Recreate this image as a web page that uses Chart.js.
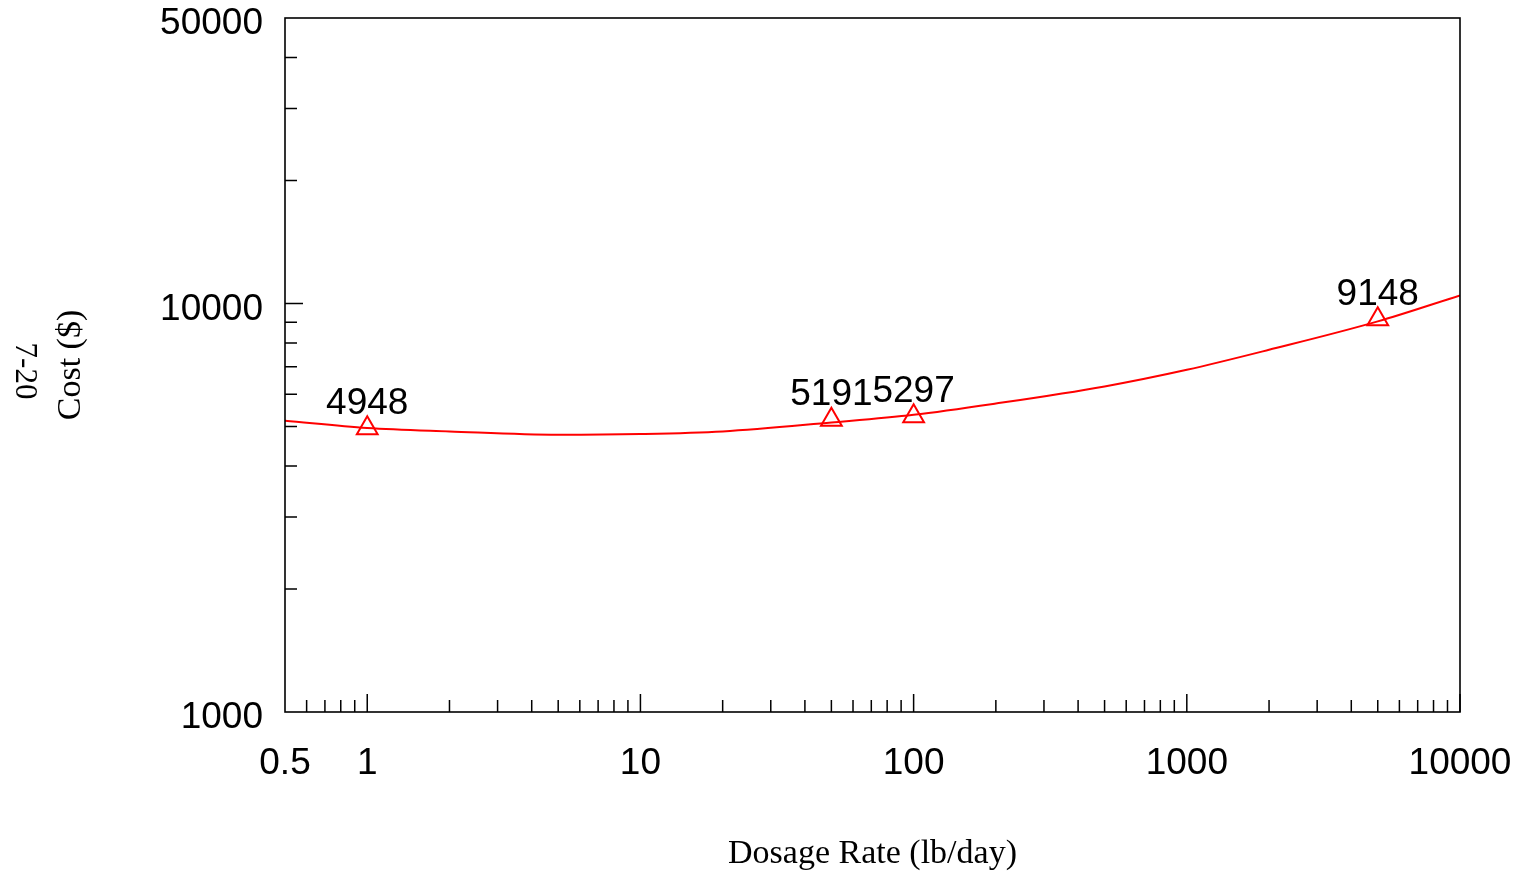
<!DOCTYPE html>
<html>
<head>
<meta charset="utf-8">
<script src="https://cdn.jsdelivr.net/npm/chart.js@4.4.1/dist/chart.umd.min.js"></script>
<style>
  html, body { margin: 0; padding: 0; background: #fff; }
  #wrap { width: 1522px; height: 878px; }
</style>
</head>
<body>
<div id="wrap"><canvas id="cost-chart" width="1522" height="878"></canvas></div>
<script>
// measured points (dosage lb/day, cost $)
var dosage = [1, 50, 100, 5000];
var cost = [4948, 5191, 5297, 9148];

// fitted curve
var fitX = [0.5, 1, 2, 5, 10, 20, 50, 100, 200, 500, 1000, 2000, 5000, 10000];
var fitY = [5163, 4955, 4861, 4771, 4790, 4861, 5113, 5340, 5690, 6266, 6883, 7705, 9042, 10469];

var xTickVals = [0.5, 1, 10, 100, 1000, 10000];
var yTickVals = [1000, 10000, 50000];

// inward tick marks
var xMajor = [1, 10, 100, 1000, 10000];
var xMinor = [0.6, 0.7, 0.8, 0.9, 2, 3, 4, 5, 6, 7, 8, 9, 20, 30, 40, 50, 60, 70, 80, 90,
              200, 300, 400, 500, 600, 700, 800, 900, 2000, 3000, 4000, 5000, 6000, 7000, 8000, 9000];
var yMajor = [10000];
var yMinor = [2000, 3000, 4000, 5000, 6000, 7000, 8000, 9000, 20000, 30000, 40000];

var sans = '"Liberation Sans", Arial, sans-serif';
var serif = '"Liberation Serif", "Times New Roman", serif';

Chart.defaults.color = 'black';
Chart.defaults.font.family = sans;

function noPad(s) {
    s.paddingTop = 0; s.paddingBottom = 0; s.paddingLeft = 0; s.paddingRight = 0;
}

var frame = {
    id: 'frame',
    afterDatasetsDraw: function(chart) {
        var ctx = chart.ctx, a = chart.chartArea;
        var sx = chart.scales.x, sy = chart.scales.y;
        ctx.save();
        ctx.strokeStyle = '#000';
        ctx.lineWidth = 1.5;
        ctx.beginPath();
        xMajor.forEach(function(v) { var p = sx.getPixelForValue(v); ctx.moveTo(p, a.bottom); ctx.lineTo(p, a.bottom - 18); });
        xMinor.forEach(function(v) { var p = sx.getPixelForValue(v); ctx.moveTo(p, a.bottom); ctx.lineTo(p, a.bottom - 12); });
        yMajor.forEach(function(v) { var p = sy.getPixelForValue(v); ctx.moveTo(a.left, p); ctx.lineTo(a.left + 18, p); });
        yMinor.forEach(function(v) { var p = sy.getPixelForValue(v); ctx.moveTo(a.left, p); ctx.lineTo(a.left + 12, p); });
        ctx.stroke();
        ctx.lineWidth = 1.6;
        ctx.strokeRect(a.left, a.top, a.right - a.left, a.bottom - a.top);

        // value labels over the markers
        var meta = chart.getDatasetMeta(1);
        ctx.fillStyle = '#000';
        ctx.font = '37px ' + sans;
        ctx.textAlign = 'center';
        ctx.textBaseline = 'alphabetic';
        meta.data.forEach(function(pt, i) {
            ctx.fillText(String(cost[i]), pt.x, pt.y - 14.5);
        });

        // page number in the margin
        ctx.font = '31px ' + serif;
        ctx.translate(24, 371);
        ctx.rotate(Math.PI / 2);
        ctx.textBaseline = 'middle';
        ctx.fillText('7-20', 0, 0);
        ctx.restore();
    }
};

var chart = new Chart(document.getElementById('cost-chart'), {
    type: 'line',
    data: {
        datasets: [
            {
                label: 'fit',
                data: fitX.map(function(x, i) { return {x: x, y: fitY[i]}; }),
                borderColor: '#ff0000',
                borderWidth: 2,
                pointRadius: 0,
                cubicInterpolationMode: 'monotone',
                fill: false
            },
            {
                label: 'cost',
                data: dosage.map(function(x, i) { return {x: x, y: cost[i]}; }),
                showLine: false,
                pointStyle: 'triangle',
                pointRadius: 12,
                pointBorderColor: '#ff0000',
                pointBackgroundColor: 'rgba(0,0,0,0)',
                pointBorderWidth: 2
            }
        ]
    },
    options: {
        responsive: false,
        animation: false,
        layout: {padding: {left: 0, top: 18, right: 62, bottom: 0}},
        plugins: {legend: {display: false}, tooltip: {enabled: false}},
        scales: {
            x: {
                type: 'logarithmic', min: 0.5, max: 10000,
                grid: {display: false}, border: {display: false},
                afterBuildTicks: function(s) { s.ticks = xTickVals.map(function(v) { return {value: v}; }); },
                afterFit: function(s) { s.height = 166; noPad(s); },
                ticks: {autoSkip: false, maxRotation: 0, padding: 22, font: {size: 37},
                        callback: function(v) { return String(v); }},
                title: {display: true, text: 'Dosage Rate (lb/day)', font: {family: serif, size: 34},
                        padding: {top: 0, bottom: 4}}
            },
            y: {
                type: 'logarithmic', min: 1000, max: 50000,
                grid: {display: false}, border: {display: false},
                afterBuildTicks: function(s) { s.ticks = yTickVals.map(function(v) { return {value: v}; }); },
                afterFit: function(s) { s.width = 285; noPad(s); },
                ticks: {autoSkip: false, padding: 14, labelOffset: 6, font: {size: 37},
                        callback: function(v) { return String(v); }},
                title: {display: true, text: 'Cost ($)', font: {family: serif, size: 34},
                        padding: {top: 51, bottom: 0}}
            }
        }
    },
    plugins: [frame]
});
</script>
</body>
</html>
